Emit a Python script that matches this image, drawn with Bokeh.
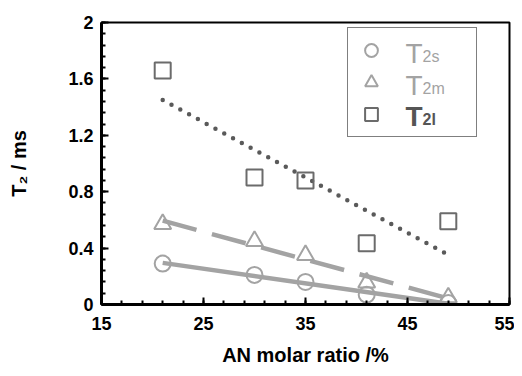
import numpy as np
from bokeh.plotting import figure
from bokeh.models import Range1d, FixedTicker, Legend, LegendItem, Label
from bokeh.embed import file_html
from bokeh.resources import INLINE

# ---- data ----
an_ratio = [21, 30, 35, 41, 49]
t2s = [0.29, 0.21, 0.16, 0.07, 0.01]
t2m = [0.57, 0.45, 0.35, 0.155, 0.05]
t2l = [1.66, 0.90, 0.88, 0.435, 0.59]

x_ticks = [15, 25, 35, 45, 55]
x_minor = [15 + 2 * i for i in range(21)]
y_ticks = [0, 0.4, 0.8, 1.2, 1.6, 2]
y_tick_labels = ["0", "0.4", "0.8", "1.2", "1.6", "2"]
y_minor = [round(0.08 * i, 2) for i in range(26)]

LIGHT = "#a3a3a3"
DARK = "#6b6b6b"
FONT = "Liberation Sans"

p = figure(width=514, height=368, output_backend="svg", toolbar_location=None,
           x_range=Range1d(15, 55), y_range=Range1d(0, 2),
           min_border_left=101, min_border_right=5, min_border_top=22, min_border_bottom=61)
p.grid.visible = False
p.background_fill_color = "white"
p.outline_line_color = "black"
p.outline_line_width = 2

# axes
p.xaxis.ticker = FixedTicker(ticks=x_ticks, minor_ticks=x_minor)
p.yaxis.ticker = FixedTicker(ticks=y_ticks, minor_ticks=y_minor)
p.yaxis.major_label_overrides = {t: l for t, l in zip(y_ticks, y_tick_labels)}
for ax in (p.xaxis, p.yaxis):
    ax.axis_line_width = 3
    ax.axis_line_color = "black"
    ax.major_tick_in = 7
    ax.major_tick_out = 0
    ax.minor_tick_in = 4
    ax.minor_tick_out = 0
    ax.major_tick_line_width = 2
    ax.minor_tick_line_width = 2
    ax.major_label_text_font = FONT
    ax.major_label_text_font_style = "bold"
    ax.major_label_text_font_size = "18px"
    ax.major_label_text_color = "black"
    ax.axis_label_text_font = FONT
    ax.axis_label_text_font_style = "bold"
    ax.axis_label_text_font_size = "20px"
    ax.axis_label_text_color = "black"
p.xaxis.major_label_standoff = 12
p.yaxis.major_label_standoff = 8
p.xaxis.axis_label = "AN molar ratio /%"
p.yaxis.axis_label = "T\u2082 / ms"
p.xaxis.axis_label_standoff = 11
p.yaxis.axis_label_standoff = 35

# regression lines
xs = np.array([min(an_ratio), max(an_ratio)], dtype=float)
cs = np.polyfit(an_ratio, t2s, 1)
cm = np.polyfit(an_ratio, t2m, 1)
cl = np.polyfit(an_ratio, t2l, 1)
p.line(xs, np.polyval(cs, xs), line_color=LIGHT, line_width=4.5)
p.line(xs, np.polyval(cm, xs), line_color=LIGHT, line_width=4.5, line_dash="35 16")
p.line(xs, np.polyval(cl, xs), line_color="#5a5a5a", line_width=4.5, line_dash="0 10",
       line_cap="round")

# markers
r_s = p.scatter(an_ratio, t2s, marker="circle", size=16, line_color=LIGHT,
                line_width=2, fill_alpha=0)
r_m = p.scatter(an_ratio, t2m, marker="triangle", size=17, line_color=LIGHT,
                line_width=2, fill_alpha=0)
r_l = p.scatter(an_ratio, t2l, marker="square", size=16, line_color=DARK,
                line_width=2, fill_alpha=0)

legend = Legend(items=[LegendItem(label=" ", renderers=[r_s]),
                       LegendItem(label=" ", renderers=[r_m]),
                       LegendItem(label=" ", renderers=[r_l])],
                location=(246, 167), padding=6, spacing=0, margin=0,
                glyph_height=32, glyph_width=34, label_height=32, label_width=77,
                label_standoff=5, label_text_font_size="2px",
                border_line_color="black", border_line_width=1.5,
                background_fill_alpha=0)
p.add_layout(legend, "center")

# legend texts with subscripts (screen units relative to the plot frame)
leg_names = [("T", "2s", LIGHT, "normal"), ("T", "2m", LIGHT, "normal"),
             ("T", "2l", "#555555", "bold")]
for i, (main, sub, col, style) in enumerate(leg_names):
    base = 251 - 31.5 * i
    p.add_layout(Label(x=304, y=base, x_units="screen", y_units="screen", text=main,
                       text_font=FONT, text_font_size="28px", text_color=col,
                       text_font_style=style, text_baseline="alphabetic"))
    p.add_layout(Label(x=321, y=base - 3, x_units="screen", y_units="screen", text=sub,
                       text_font=FONT, text_font_size="16px", text_color=col,
                       text_font_style=style, text_baseline="alphabetic"))

open("out.html", "w").write(file_html(p, INLINE))
